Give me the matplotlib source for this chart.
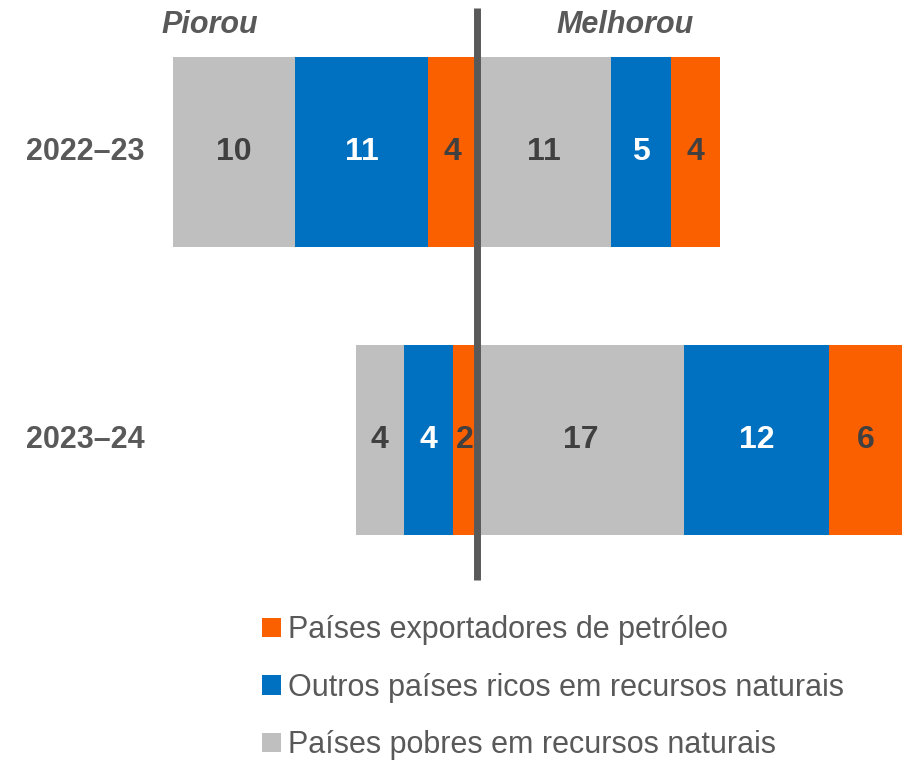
import matplotlib.pyplot as plt
import numpy as np

plt.rcParams['font.family'] = ['Liberation Sans Narrow', 'Liberation Sans', 'DejaVu Sans']

years = ['2022–23', '2023–24']
series = ['Países exportadores de petróleo',
          'Outros países ricos em recursos naturais',
          'Países pobres em recursos naturais']
# piorou (left side), ordered from the centre line outwards
piorou_petroleo = [4, 2]
piorou_ricos = [11, 4]
piorou_pobres = [10, 4]
# melhorou (right side), ordered from the centre line outwards
melhorou_pobres = [11, 17]
melhorou_ricos = [5, 12]
melhorou_petroleo = [4, 6]

c_orange = '#FA5F00'
c_blue = '#0070C0'
c_gray = '#BFBFBF'
c_text = '#595959'
c_num = '#404040'

fig = plt.figure(figsize=(9.08, 7.61), dpi=100)
ax = fig.add_axes([0, 0, 1, 1])
scale = 12.15
center = 477
ax.set_xlim(-center / scale, (908 - center) / scale)
ax.set_ylim((761 - 152) / 288, -152 / 288)
ax.axis('off')

y = np.arange(len(years))
h = 0.66


def seg(left, width, color, label=None, txtcolor=c_num):
    bars = ax.barh(y, width, left=left, height=h, color=color, label=label)
    for yi, l, w in zip(y, left, width):
        ax.text(l + w / 2, yi, f'{abs(w):g}', ha='center', va='center',
                fontsize=23, fontweight='bold', color=txtcolor)
    return bars


po = -np.array(piorou_petroleo)
pr = -np.array(piorou_ricos)
pp = -np.array(piorou_pobres)
seg(np.zeros(2), po, c_orange)
seg(po, pr, c_blue, txtcolor='white')
seg(po + pr, pp, c_gray)

mp = np.array(melhorou_pobres)
mr = np.array(melhorou_ricos)
mo = np.array(melhorou_petroleo)
h3 = seg(np.zeros(2), mp, c_gray, label=series[2])
h2 = seg(mp, mr, c_blue, label=series[1], txtcolor='white')
h1 = seg(mp + mr, mo, c_orange, label=series[0])

ax.vlines(0, -0.5, 1.486, color=c_text, lw=5, zorder=5)

for yi, yr in zip(y, years):
    ax.text(-392 / scale, yi, yr, ha='center', va='center', fontsize=22,
            fontweight='bold', color=c_text)

fig.text(210 / 908, 1 - 25 / 761, 'Piorou', ha='center', va='center', fontsize=22,
         fontweight='bold', style='italic', color=c_text)
fig.text(625 / 908, 1 - 25 / 761, 'Melhorou', ha='center', va='center', fontsize=22,
         fontweight='bold', style='italic', color=c_text)

leg = ax.legend([h1, h2, h3], series, loc='upper left', bbox_to_anchor=(250 / 908, 1 - 603 / 761),
                frameon=False, fontsize=22, handlelength=0.6, handleheight=0.6,
                handletextpad=0.25, labelspacing=0.9, borderaxespad=0)
for t in leg.get_texts():
    t.set_color(c_text)

fig.savefig('out.png', dpi=100)
